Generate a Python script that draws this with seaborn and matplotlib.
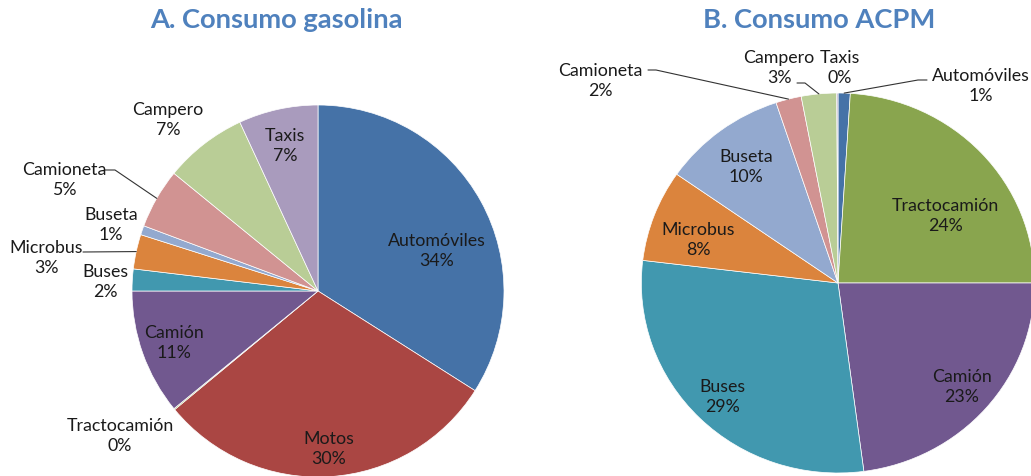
import numpy as np
import seaborn as sns
import matplotlib.pyplot as plt

sns.set_theme(style="white")
plt.rcParams['font.family'] = ['Lato', 'DejaVu Sans']

# data (share of consumption, %)
gas_cats = ["Automóviles", "Motos", "Tractocamión", "Camión", "Buses",
            "Microbus", "Buseta", "Camioneta", "Campero", "Taxis"]
gas_vals = [34.0, 30.0, 0.1, 10.9, 1.9, 3.0, 0.8, 5.2, 7.2, 6.9]

acpm_cats = ["Automóviles", "Tractocamión", "Camión", "Buses", "Microbus",
             "Buseta", "Camioneta", "Campero", "Taxis"]
acpm_vals = [1.0, 24.0, 22.9, 29.0, 7.8, 10.2, 2.1, 2.9, 0.1]

titles = ["A. Consumo gasolina", "B. Consumo ACPM"]

# colours per vehicle type (Excel 2010 palette)
colors = {
    "Automóviles": "#4572A7", "Motos": "#AA4643", "Tractocamión": "#89A54E",
    "Camión": "#71588F", "Buses": "#4198AF", "Microbus": "#DB843D",
    "Buseta": "#93A9CF", "Camioneta": "#D19392", "Campero": "#B9CD96",
    "Taxis": "#A99BBD",
}

# layout (pixel coords, origin top-left)
W, H = 1031, 477
gas_center, gas_radius, gas_stretch = (318, 292), 186, 1.0
acpm_center, acpm_radius, acpm_stretch = (838, 284), 190, 1.035
title_pos = [(276, 20), (819, 20)]

gas_label_pos = {
    "Automóviles": (437, 251), "Motos": (329, 449), "Tractocamión": (120, 436),
    "Camión": (174, 343), "Buses": (105, 282), "Microbus": (46, 258),
    "Buseta": (111, 225), "Camioneta": (64, 180), "Campero": (168, 120),
    "Taxis": (285, 146),
}
gas_leaders = {"Microbus": [(83, 253)], "Camioneta": [(105, 171), (115, 171)]}

acpm_label_pos = {
    "Automóviles": (981, 86), "Tractocamión": (945, 216), "Camión": (962, 387),
    "Buses": (722, 397), "Microbus": (698, 240), "Buseta": (746, 167),
    "Camioneta": (600, 81), "Campero": (779, 68), "Taxis": (840, 68),
}
acpm_leaders = {"Camioneta": [(648, 71), (656, 71)],
                "Campero": [(797, 84), (805, 84)],
                "Automóviles": [(927, 81), (918, 81)]}

fig = plt.figure(figsize=(W / 100, H / 100), dpi=100)
ax = fig.add_axes([0, 0, 1, 1])  # text / leader layer in pixel coords


def draw_pie(cats, vals, center, radius, stretch, label_pos, leaders):
    # own axes so the pie can be slightly wider than tall, like the source
    pax = fig.add_axes([0, 0, 1, 1], zorder=0)
    wedges, _ = pax.pie(vals, colors=[colors[c] for c in cats], startangle=-90,
                        counterclock=True, center=center, radius=radius,
                        wedgeprops=dict(edgecolor="white", linewidth=0.5))
    cx = center[0]
    pax.set_aspect("auto")
    pax.set_xlim(cx - cx / stretch, cx + (W - cx) / stretch)
    pax.set_ylim(H, 0)
    pax.axis("off")
    total = sum(vals)
    for w, c, v in zip(wedges, cats, vals):
        x, y = label_pos[c]
        ax.text(x, y, f"{c}\n{v / total * 100:.0f}%", ha="center", va="center",
                fontsize=12.8, color="#1a1a1a", linespacing=1.38)
        if c in leaders:
            th = np.deg2rad((w.theta1 + w.theta2) / 2)
            edge = (cx + stretch * radius * np.cos(th), center[1] + radius * np.sin(th))
            pts = leaders[c] + [edge]
            ax.plot([p[0] for p in pts], [p[1] for p in pts], color="#333333", lw=0.8)


draw_pie(gas_cats, gas_vals, gas_center, gas_radius, gas_stretch,
         gas_label_pos, gas_leaders)
draw_pie(acpm_cats, acpm_vals, acpm_center, acpm_radius, acpm_stretch,
         acpm_label_pos, acpm_leaders)

for t, (x, y) in zip(titles, title_pos):
    ax.text(x, y, t, ha="center", va="center", fontsize=19.7, fontweight="bold",
            color="#4F81BD")

ax.set_zorder(5)
ax.patch.set_alpha(0)
ax.set_xlim(0, W)
ax.set_ylim(H, 0)
ax.axis("off")

fig.savefig("out.png", dpi=100)
